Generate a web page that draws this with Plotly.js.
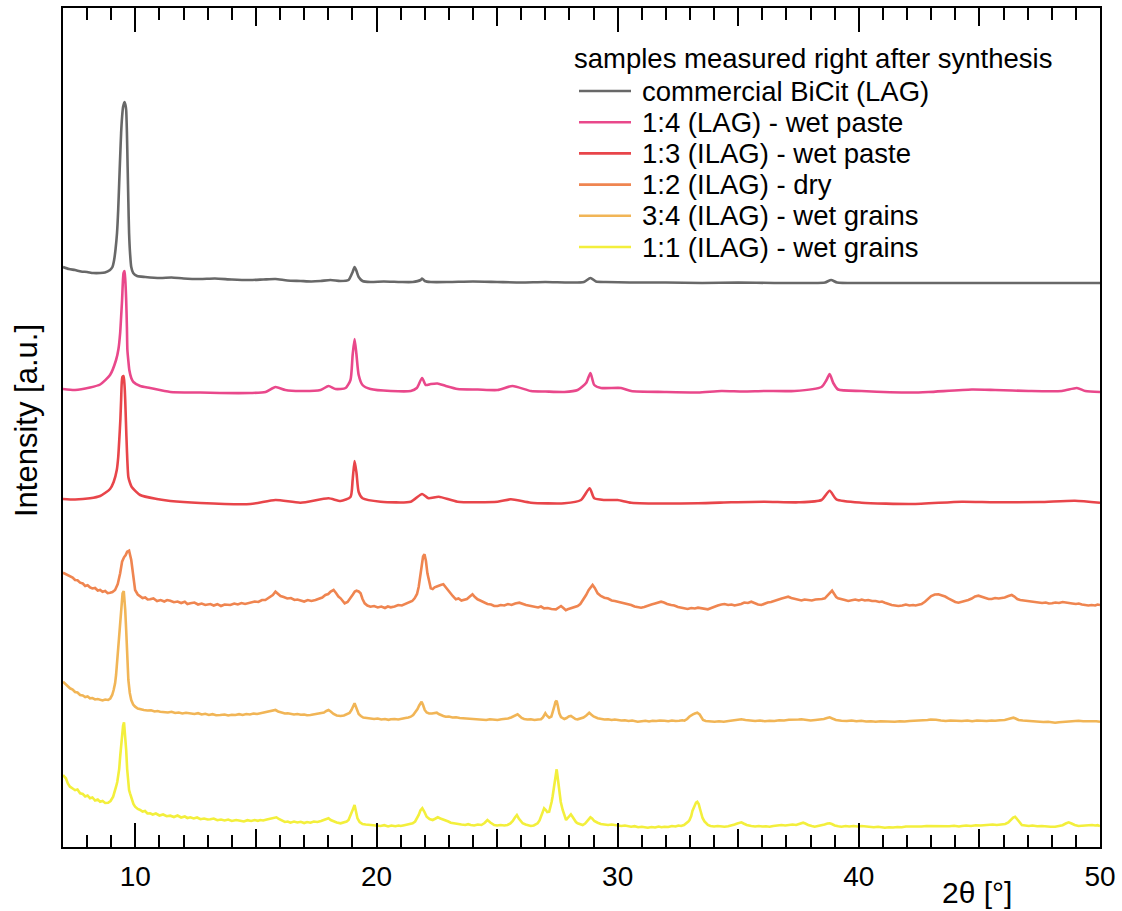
<!DOCTYPE html>
<html>
<head>
<meta charset="utf-8">
<script src="https://cdn.plot.ly/plotly-3.0.1.min.js"></script>
<style>
  html, body { margin: 0; padding: 0; background: #ffffff; }
  #chart { width: 1122px; height: 911px; }
</style>
</head>
<body>
<div id="chart"></div>
<script>
// Stacked XRD patterns, 2θ in degrees, intensity in arbitrary (offset) units.

const sampleNames = [
  "commercial BiCit (LAG)",
  "1:4 (LAG) - wet paste",
  "1:3 (ILAG) - wet paste",
  "1:2 (ILAG) - dry",
  "3:4 (ILAG) - wet grains",
  "1:1 (ILAG) - wet grains"
];
const legendTitle = "samples measured right after synthesis";
const xTickValues = [10, 20, 30, 40, 50];
const xMidTickValues = [15, 25, 35, 45];

// commercial BiCit (LAG)
const bicitX = [
  7.00, 7.25, 7.50, 7.75, 8.00, 8.25, 8.54, 8.74, 8.95, 9.05,
  9.12, 9.18, 9.24, 9.29, 9.33, 9.37, 9.41, 9.45, 9.49, 9.55,
  9.59, 9.62, 9.65, 9.68, 9.71, 9.74, 9.78, 9.83, 9.91, 10.07,
  10.41, 11.03, 11.50, 12.00, 12.69, 13.30, 14.00, 14.77, 15.30, 15.81,
  16.30, 16.85, 17.30, 17.68, 18.09, 18.50, 18.84, 19.01, 19.09, 19.17,
  19.26, 19.42, 19.75, 20.30, 21.00, 21.50, 21.83, 21.89, 22.00, 22.25,
  23.00, 24.00, 25.00, 26.00, 27.00, 28.00, 28.60, 28.87, 29.10, 29.50,
  30.50, 32.00, 33.50, 35.00, 36.50, 38.00, 38.60, 38.85, 39.10, 40.00,
  41.50, 43.00, 44.50, 46.00, 47.50, 49.00, 50.00
];
const bicitY = [
  580, 578, 577, 575.5, 575, 574, 574, 574.5, 577, 580,
  587, 598, 614, 638, 664, 690, 714, 730, 740, 745,
  742, 737, 715, 680, 645, 614, 594, 580, 574, 571,
  570, 569, 569.5, 568.5, 568, 568.5, 567.5, 567, 567.5, 568,
  566.5, 566, 565.5, 566, 567, 566, 567, 575, 580, 576,
  570, 566, 565, 565.5, 565, 565, 567, 568.5, 566, 565,
  565, 565.5, 565, 564.5, 565, 564.5, 565, 569, 565.5, 565,
  564.5, 564.5, 564, 564.5, 564, 564, 564.5, 567, 564.5, 564,
  564, 564, 564, 564, 564, 564, 564
];

// 1:4 (LAG) - wet paste
const lag14X = [
  7.00, 7.50, 8.12, 8.54, 8.95, 9.20, 9.30, 9.37, 9.41, 9.45,
  9.51, 9.55, 9.58, 9.62, 9.65, 9.67, 9.71, 9.75, 9.83, 9.92,
  10.20, 10.61, 11.45, 12.69, 13.50, 14.77, 15.40, 15.81, 16.22, 16.85,
  17.68, 18.01, 18.30, 18.72, 18.92, 19.01, 19.09, 19.17, 19.26, 19.42,
  19.75, 20.59, 21.42, 21.67, 21.89, 22.04, 22.25, 22.53, 22.87, 23.36,
  24.20, 25.02, 25.64, 26.40, 27.00, 27.79, 28.34, 28.69, 28.87, 29.03,
  29.31, 30.14, 30.56, 31.94, 33.33, 34.30, 35.20, 36.09, 37.33, 38.45,
  38.66, 38.79, 38.94, 39.14, 40.11, 42.19, 42.88, 44.68, 45.65, 47.04,
  48.42, 49.04, 49.39, 50.00
];
const lag14Y = [
  458, 457, 459.5, 462.5, 472, 487, 498, 514, 530, 547,
  574, 576, 568, 547, 520, 497, 486, 477, 469, 465,
  461, 459, 455, 454.5, 454, 454, 455, 460, 457, 456,
  457, 461, 458, 459, 467, 492, 508, 492, 472, 462,
  458, 456, 456, 459, 469, 462, 463, 463.5, 461, 458,
  457.5, 457, 461, 456, 455.5, 455, 457, 464, 474, 462,
  459, 459, 456, 455, 454.5, 456, 455.5, 456, 456, 460,
  467, 473, 464, 457.5, 456, 454.5, 455, 457.5, 457, 456,
  456, 459, 456, 455
];

// 1:3 (ILAG) - wet paste
const ilag13X = [
  7.00, 7.50, 8.12, 8.54, 8.95, 9.10, 9.23, 9.29, 9.34, 9.38,
  9.41, 9.46, 9.51, 9.55, 9.58, 9.61, 9.65, 9.71, 9.78, 9.85,
  10.20, 10.89, 11.45, 12.69, 14.77, 15.81, 16.85, 18.01, 18.51, 18.92,
  19.01, 19.09, 19.17, 19.26, 19.42, 20.17, 21.42, 21.89, 22.16, 22.58,
  23.36, 25.02, 25.57, 26.40, 27.79, 28.48, 28.84, 29.03, 29.45, 30.00,
  30.56, 33.33, 34.71, 36.09, 37.50, 38.45, 38.79, 39.07, 40.11, 42.19,
  44.27, 45.65, 47.50, 48.96, 50.00
];
const ilag13Y = [
  348, 347.5, 348.7, 351, 358, 365, 377, 390, 410, 428,
  447, 470, 471, 462, 447, 425, 397, 370, 364, 360,
  352, 348, 346, 344, 343, 347, 344.3, 348.7, 346, 350,
  367, 386, 374, 355, 348.7, 345.3, 345.3, 353, 348.7, 350.3,
  345.3, 345.3, 347.7, 344.3, 343.7, 347, 358.7, 348.7, 347, 347,
  344.3, 343.7, 344.7, 345.3, 344.7, 347, 356.3, 347.7, 344.3, 343,
  345.3, 344.7, 345, 346.3, 344.3
];

// 1:2 (ILAG) - dry
const ilag12X = [
  7.00, 7.10, 7.20, 7.29, 7.40, 7.50, 7.60, 7.71, 7.82, 7.92,
  8.02, 8.12, 8.22, 8.33, 8.44, 8.54, 8.64, 8.75, 8.85, 8.95,
  9.05, 9.16, 9.27, 9.37, 9.45, 9.53, 9.60, 9.66, 9.74, 9.83,
  9.91, 9.99, 10.10, 10.20, 10.30, 10.41, 10.51, 10.61, 10.75, 10.90,
  11.05, 11.20, 11.32, 11.45, 11.60, 11.75, 11.90, 12.05, 12.16, 12.28,
  12.45, 12.60, 12.75, 12.90, 13.11, 13.25, 13.40, 13.55, 13.70, 13.94,
  14.10, 14.25, 14.40, 14.55, 14.77, 14.95, 15.10, 15.25, 15.39, 15.55,
  15.70, 15.81, 15.92, 16.02, 16.15, 16.30, 16.45, 16.60, 16.72, 16.85,
  17.00, 17.15, 17.30, 17.47, 17.60, 17.75, 17.88, 18.00, 18.10, 18.22,
  18.32, 18.42, 18.51, 18.60, 18.68, 18.80, 18.92, 19.02, 19.10, 19.17,
  19.26, 19.34, 19.42, 19.51, 19.62, 19.75, 19.90, 20.05, 20.20, 20.35,
  20.47, 20.59, 20.75, 20.90, 21.05, 21.21, 21.35, 21.48, 21.58, 21.68,
  21.75, 21.82, 21.87, 21.93, 21.99, 22.05, 22.11, 22.18, 22.25, 22.33,
  22.41, 22.50, 22.58, 22.66, 22.77, 22.86, 22.94, 23.05, 23.16, 23.29,
  23.40, 23.52, 23.63, 23.75, 23.87, 23.98, 24.08, 24.19, 24.30, 24.45,
  24.60, 24.75, 24.88, 25.02, 25.15, 25.30, 25.45, 25.60, 25.75, 25.92,
  26.05, 26.20, 26.40, 26.55, 26.70, 26.82, 26.95, 27.10, 27.25, 27.44,
  27.55, 27.65, 27.75, 27.85, 27.93, 28.05, 28.20, 28.34, 28.45, 28.57,
  28.69, 28.80, 28.90, 28.96, 29.05, 29.17, 29.30, 29.45, 29.60, 29.75,
  29.88, 30.00, 30.15, 30.30, 30.45, 30.56, 30.70, 30.85, 30.97, 31.10,
  31.25, 31.40, 31.55, 31.70, 31.80, 31.92, 32.05, 32.22, 32.35, 32.50,
  32.65, 32.77, 32.90, 33.05, 33.20, 33.33, 33.48, 33.60, 33.74, 33.88,
  34.02, 34.15, 34.30, 34.43, 34.58, 34.72, 34.85, 34.99, 35.12, 35.25,
  35.40, 35.54, 35.68, 35.82, 35.96, 36.10, 36.22, 36.36, 36.50, 36.65,
  36.80, 36.95, 37.07, 37.20, 37.35, 37.50, 37.62, 37.75, 37.90, 38.05,
  38.20, 38.35, 38.47, 38.59, 38.70, 38.80, 38.89, 38.98, 39.06, 39.14,
  39.28, 39.42, 39.56, 39.70, 39.85, 40.00, 40.12, 40.25, 40.39, 40.55,
  40.70, 40.85, 40.96, 41.08, 41.22, 41.36, 41.50, 41.64, 41.80, 41.95,
  42.10, 42.25, 42.35, 42.47, 42.60, 42.74, 42.88, 43.00, 43.15, 43.30,
  43.45, 43.58, 43.71, 43.85, 44.00, 44.13, 44.27, 44.40, 44.54, 44.68,
  44.82, 44.96, 45.10, 45.25, 45.38, 45.51, 45.65, 45.80, 45.93, 46.05,
  46.20, 46.34, 46.45, 46.57, 46.69, 46.85, 47.00, 47.15, 47.31, 47.45,
  47.60, 47.75, 47.88, 48.01, 48.15, 48.30, 48.45, 48.58, 48.70, 48.85,
  49.00, 49.12, 49.25, 49.39, 49.52, 49.65, 49.80, 49.90, 50.00
];
const ilag12Y = [
  274.3, 273.0, 271.5, 270.3, 269.5, 267.0, 266.8, 264.3, 263.5, 261.0,
  261.8, 259.7, 258.5, 259.0, 256.5, 257.0, 255.2, 256.0, 253.8, 254.3,
  255.0, 257.0, 263.0, 273.7, 285.3, 289.7, 292.0, 295.3, 296.3, 287.0,
  270.3, 257.0, 252.5, 250.3, 249.0, 249.5, 247.5, 247.7, 248.5, 246.0,
  247.0, 245.5, 247.0, 246.3, 244.8, 245.5, 244.0, 245.2, 243.0, 243.7,
  244.5, 242.5, 243.5, 242.0, 243.0, 241.5, 242.8, 241.0, 242.5, 242.0,
  243.5, 242.5, 244.0, 243.0, 244.3, 245.5, 245.0, 247.0, 247.0, 249.5,
  252.0, 255.3, 252.5, 251.0, 250.0, 248.5, 249.0, 247.0, 247.5, 246.3,
  245.5, 247.0, 246.0, 247.0, 248.5, 249.5, 252.0, 253.0, 255.5, 257.0,
  254.0, 250.5, 248.7, 245.5, 243.7, 245.0, 248.7, 252.5, 255.5, 256.3,
  255.5, 253.7, 248.0, 243.7, 241.5, 240.3, 241.0, 239.5, 240.5, 239.0,
  240.5, 239.7, 240.5, 242.0, 241.5, 243.0, 244.5, 246.0, 248.7, 253.0,
  260.3, 272.0, 283.7, 290.5, 292.7, 286.0, 273.7, 264.0, 258.7, 258.0,
  259.7, 260.5, 261.5, 262.0, 262.7, 260.0, 257.0, 254.0, 251.0, 247.7,
  248.5, 246.5, 247.0, 248.0, 250.5, 252.7, 250.0, 247.7, 246.5, 244.5,
  243.0, 242.5, 241.0, 241.0, 242.0, 241.5, 243.0, 242.0, 243.5, 244.3,
  243.0, 242.0, 241.0, 240.0, 239.5, 240.5, 238.7, 239.0, 238.0, 237.7,
  239.0, 241.0, 239.0, 236.8, 237.7, 238.5, 240.0, 241.0, 243.0, 247.0,
  252.0, 257.0, 261.0, 262.0, 259.0, 253.7, 251.0, 249.3, 248.5, 246.5,
  246.0, 245.3, 244.5, 243.0, 242.5, 242.0, 240.5, 240.0, 239.3, 240.0,
  241.5, 242.5, 243.5, 244.5, 245.3, 244.5, 243.0, 242.0, 241.5, 240.0,
  239.5, 238.7, 238.0, 239.0, 238.5, 239.3, 238.5, 238.0, 237.7, 239.0,
  240.5, 241.5, 242.5, 243.0, 242.0, 242.5, 241.5, 242.0, 243.0, 244.5,
  244.0, 245.3, 243.5, 242.5, 242.0, 243.5, 244.5, 245.0, 246.3, 247.5,
  248.5, 249.5, 250.3, 249.0, 248.0, 247.5, 246.5, 247.5, 247.0, 246.5,
  247.5, 247.5, 248.0, 248.7, 251.5, 254.5, 256.3, 253.0, 250.0, 248.7,
  247.5, 247.0, 246.0, 246.5, 247.5, 246.5, 247.5, 246.5, 247.0, 246.0,
  246.0, 245.0, 245.5, 244.3, 243.0, 242.0, 241.5, 241.0, 241.5, 242.5,
  241.5, 242.0, 241.5, 242.0, 243.0, 245.3, 248.0, 251.0, 252.5, 252.7,
  251.5, 250.5, 248.7, 247.0, 245.0, 244.3, 245.0, 246.0, 247.0, 248.5,
  250.5, 251.3, 250.0, 249.0, 248.0, 248.0, 249.0, 248.5, 248.7, 249.5,
  251.0, 252.0, 250.5, 248.0, 247.0, 246.5, 246.0, 245.5, 245.3, 244.5,
  244.0, 244.5, 243.5, 243.7, 244.5, 244.0, 245.0, 244.5, 244.3, 243.5,
  243.0, 243.5, 242.5, 242.0, 241.5, 242.0, 241.5, 242.5, 242.0
];

// 3:4 (ILAG) - wet grains
const ilag34X = [
  7.00, 7.10, 7.20, 7.29, 7.40, 7.50, 7.60, 7.71, 7.82, 7.92,
  8.02, 8.12, 8.22, 8.33, 8.44, 8.54, 8.64, 8.75, 8.87, 8.96,
  9.04, 9.10, 9.16, 9.20, 9.24, 9.29, 9.33, 9.37, 9.41, 9.44,
  9.47, 9.52, 9.56, 9.58, 9.62, 9.65, 9.68, 9.71, 9.77, 9.83,
  9.91, 9.99, 10.10, 10.20, 10.35, 10.50, 10.65, 10.80, 10.92, 11.03,
  11.20, 11.35, 11.50, 11.65, 11.80, 11.95, 12.10, 12.28, 12.45, 12.60,
  12.75, 12.90, 13.05, 13.20, 13.35, 13.52, 13.70, 13.85, 14.00, 14.15,
  14.30, 14.45, 14.60, 14.75, 14.90, 15.05, 15.18, 15.32, 15.45, 15.58,
  15.70, 15.81, 15.92, 16.05, 16.20, 16.32, 16.43, 16.58, 16.72, 16.86,
  17.00, 17.12, 17.26, 17.40, 17.55, 17.70, 17.82, 17.92, 18.01, 18.10,
  18.22, 18.35, 18.51, 18.65, 18.78, 18.88, 18.96, 19.03, 19.09, 19.15,
  19.21, 19.26, 19.35, 19.45, 19.60, 19.75, 19.90, 20.05, 20.20, 20.35,
  20.50, 20.59, 20.75, 20.90, 21.05, 21.20, 21.32, 21.42, 21.52, 21.62,
  21.70, 21.77, 21.83, 21.87, 21.93, 22.00, 22.08, 22.18, 22.30, 22.42,
  22.50, 22.58, 22.66, 22.77, 22.87, 23.00, 23.15, 23.30, 23.45, 23.63,
  23.80, 23.95, 24.10, 24.25, 24.40, 24.55, 24.70, 24.85, 25.02, 25.18,
  25.32, 25.45, 25.58, 25.70, 25.78, 25.85, 25.93, 26.02, 26.12, 26.25,
  26.40, 26.55, 26.70, 26.82, 26.90, 26.96, 27.00, 27.06, 27.16, 27.25,
  27.32, 27.37, 27.42, 27.47, 27.52, 27.58, 27.65, 27.72, 27.79, 27.88,
  27.97, 28.06, 28.15, 28.25, 28.34, 28.45, 28.58, 28.70, 28.78, 28.82,
  28.90, 29.00, 29.17, 29.30, 29.45, 29.60, 29.75, 29.88, 30.00, 30.15,
  30.30, 30.45, 30.60, 30.75, 30.83, 31.00, 31.15, 31.30, 31.45, 31.60,
  31.75, 31.94, 32.10, 32.25, 32.40, 32.55, 32.68, 32.77, 32.88, 32.98,
  33.06, 33.12, 33.20, 33.30, 33.40, 33.48, 33.54, 33.65, 33.80, 34.02,
  34.20, 34.40, 34.60, 34.80, 35.00, 35.13, 35.30, 35.50, 35.70, 35.90,
  36.10, 36.30, 36.50, 36.70, 36.90, 37.10, 37.30, 37.50, 37.62, 37.80,
  38.00, 38.20, 38.40, 38.55, 38.68, 38.79, 38.90, 39.05, 39.28, 39.50,
  39.70, 39.90, 40.10, 40.30, 40.50, 40.70, 40.90, 41.10, 41.30, 41.49,
  41.70, 41.90, 42.10, 42.30, 42.50, 42.70, 42.85, 42.98, 43.09, 43.20,
  43.40, 43.60, 43.80, 44.00, 44.27, 44.50, 44.70, 44.90, 45.10, 45.30,
  45.50, 45.65, 45.85, 46.05, 46.20, 46.32, 46.41, 46.50, 46.62, 46.80,
  47.04, 47.25, 47.45, 47.65, 47.85, 48.00, 48.14, 48.30, 48.50, 48.70,
  48.90, 49.11, 49.30, 49.50, 49.70, 49.85, 50.00
];
const ilag34Y = [
  165.3, 163.0, 161.5, 158.7, 157.5, 155.0, 154.5, 152.0, 151.5, 150.0,
  150.5, 148.7, 149.0, 147.5, 148.0, 147.0, 146.5, 147.5, 147.0, 148.5,
  152.0, 157.0, 163.7, 172.0, 183.7, 195.0, 207.0, 220.0, 233.7, 245.0,
  253.7, 256.0, 247.0, 237.0, 217.0, 200.3, 182.0, 167.0, 154.0, 147.0,
  142.5, 140.3, 138.5, 137.7, 137.0, 136.5, 136.8, 135.5, 136.0, 135.3,
  135.0, 134.5, 135.2, 134.0, 134.5, 133.5, 134.2, 133.7, 133.0, 133.8,
  132.5, 133.2, 132.0, 132.8, 131.8, 132.0, 132.5, 131.5, 132.3, 132.0,
  132.8, 132.0, 133.0, 132.5, 133.5, 133.0, 133.7, 134.0, 135.0, 136.0,
  136.5, 137.0, 135.5, 134.5, 133.5, 133.8, 133.0, 132.5, 133.0, 132.2,
  132.5, 131.8, 132.0, 132.5, 133.0, 133.5, 134.5, 136.0, 137.0, 135.5,
  133.0, 131.5, 131.0, 131.5, 132.5, 134.0, 137.0, 141.5, 143.7, 140.0,
  135.5, 133.0, 131.0, 129.5, 129.0, 128.7, 128.0, 128.5, 127.5, 128.0,
  127.2, 127.7, 128.0, 127.5, 128.5, 129.0, 129.5, 130.3, 132.0, 135.0,
  138.0, 141.5, 144.5, 145.3, 142.0, 137.0, 134.5, 133.5, 133.5, 134.0,
  134.3, 133.0, 132.0, 131.0, 130.3, 130.5, 129.5, 129.8, 129.0, 128.7,
  128.5, 128.0, 128.5, 127.5, 128.0, 127.0, 127.8, 127.2, 127.0, 127.8,
  128.0, 128.5, 129.5, 131.0, 132.5, 132.7, 131.0, 129.0, 128.0, 127.5,
  127.8, 127.0, 127.5, 127.7, 129.5, 132.5, 133.7, 131.5, 129.3, 130.5,
  135.0, 140.3, 145.0, 146.3, 141.0, 133.7, 130.0, 128.5, 128.0, 129.0,
  130.5, 131.0, 129.5, 128.0, 127.7, 128.2, 129.5, 131.5, 133.5, 134.3,
  132.5, 130.5, 128.7, 128.0, 127.5, 127.8, 127.0, 127.5, 127.0, 126.5,
  126.8, 126.0, 126.5, 125.5, 125.3, 125.8, 126.2, 125.5, 126.3, 126.0,
  126.5, 126.3, 125.8, 126.5, 126.0, 126.3, 126.8, 126.3, 128.0, 130.5,
  132.0, 132.7, 133.5, 134.3, 132.5, 129.5, 127.0, 126.0, 125.5, 125.3,
  125.8, 125.2, 126.0, 126.5, 127.0, 127.7, 127.0, 126.5, 126.0, 126.5,
  125.8, 126.3, 126.0, 126.8, 126.5, 127.2, 127.0, 127.5, 127.7, 127.0,
  126.5, 127.0, 127.5, 128.0, 129.0, 129.7, 128.5, 127.0, 126.3, 126.0,
  126.5, 125.8, 126.2, 125.5, 125.8, 125.2, 125.8, 125.5, 125.0, 125.3,
  125.8, 125.5, 126.0, 126.3, 126.0, 126.5, 127.0, 127.5, 127.7, 127.2,
  126.5, 126.0, 126.5, 126.0, 126.0, 126.5, 125.8, 126.5, 126.2, 126.0,
  126.5, 126.3, 126.8, 127.0, 128.0, 129.0, 129.3, 128.5, 127.0, 126.5,
  126.0, 125.5, 125.8, 125.0, 125.3, 124.8, 124.3, 124.8, 125.2, 125.5,
  126.0, 126.3, 125.8, 126.0, 125.5, 125.8, 125.3
];

// 1:1 (ILAG) - wet grains
const ilag11X = [
  7.00, 7.06, 7.12, 7.20, 7.29, 7.40, 7.50, 7.60, 7.71, 7.82,
  7.92, 8.02, 8.12, 8.22, 8.33, 8.44, 8.54, 8.64, 8.75, 8.87,
  8.97, 9.08, 9.15, 9.20, 9.25, 9.29, 9.33, 9.37, 9.41, 9.45,
  9.49, 9.53, 9.57, 9.62, 9.66, 9.70, 9.74, 9.78, 9.85, 9.92,
  9.99, 10.10, 10.20, 10.30, 10.40, 10.50, 10.61, 10.72, 10.85, 11.00,
  11.15, 11.30, 11.45, 11.60, 11.75, 11.90, 12.05, 12.16, 12.28, 12.42,
  12.56, 12.70, 12.85, 13.00, 13.11, 13.25, 13.40, 13.55, 13.70, 13.85,
  14.00, 14.18, 14.35, 14.50, 14.65, 14.80, 14.95, 15.08, 15.18, 15.30,
  15.45, 15.58, 15.70, 15.80, 15.85, 15.95, 16.08, 16.20, 16.32, 16.43,
  16.58, 16.72, 16.86, 17.00, 17.12, 17.26, 17.40, 17.55, 17.70, 17.82,
  17.92, 18.01, 18.10, 18.22, 18.35, 18.51, 18.65, 18.76, 18.84, 18.92,
  19.01, 19.09, 19.15, 19.21, 19.30, 19.42, 19.55, 19.70, 19.85, 20.00,
  20.17, 20.32, 20.48, 20.62, 20.78, 20.92, 21.00, 21.15, 21.30, 21.42,
  21.50, 21.60, 21.68, 21.75, 21.82, 21.90, 21.98, 22.08, 22.20, 22.33,
  22.45, 22.54, 22.65, 22.77, 22.87, 22.98, 23.08, 23.22, 23.38, 23.52,
  23.68, 23.80, 23.91, 24.05, 24.20, 24.35, 24.48, 24.60, 24.72, 24.88,
  25.00, 25.15, 25.30, 25.43, 25.55, 25.65, 25.74, 25.82, 25.90, 26.00,
  26.06, 26.18, 26.30, 26.40, 26.52, 26.60, 26.68, 26.76, 26.84, 26.90,
  26.95, 27.02, 27.08, 27.16, 27.22, 27.26, 27.30, 27.35, 27.40, 27.44,
  27.47, 27.50, 27.54, 27.58, 27.64, 27.72, 27.79, 27.86, 27.93, 28.00,
  28.06, 28.12, 28.20, 28.27, 28.34, 28.45, 28.55, 28.65, 28.75, 28.82,
  28.87, 28.94, 29.03, 29.17, 29.30, 29.45, 29.60, 29.75, 29.86, 30.00,
  30.15, 30.30, 30.45, 30.56, 30.70, 30.85, 31.00, 31.12, 31.25, 31.40,
  31.55, 31.70, 31.82, 31.94, 32.10, 32.25, 32.40, 32.52, 32.63, 32.75,
  32.85, 32.93, 32.98, 33.05, 33.10, 33.14, 33.20, 33.25, 33.30, 33.36,
  33.42, 33.46, 33.52, 33.60, 33.68, 33.74, 33.85, 34.00, 34.15, 34.30,
  34.43, 34.58, 34.72, 34.85, 34.96, 35.05, 35.13, 35.22, 35.35, 35.54,
  35.70, 35.85, 36.00, 36.15, 36.30, 36.45, 36.60, 36.79, 36.95, 37.10,
  37.25, 37.40, 37.52, 37.62, 37.69, 37.78, 37.90, 38.05, 38.17, 38.30,
  38.45, 38.58, 38.70, 38.79, 38.88, 39.00, 39.15, 39.28, 39.45, 39.60,
  39.78, 39.95, 40.11, 40.28, 40.45, 40.62, 40.80, 40.95, 41.08, 41.25,
  41.42, 41.60, 41.78, 41.95, 42.19, 42.40, 42.60, 42.80, 43.00, 43.16,
  43.35, 43.55, 43.75, 43.95, 44.15, 44.27, 44.45, 44.65, 44.85, 45.05,
  45.25, 45.37, 45.55, 45.72, 45.90, 46.07, 46.20, 46.30, 46.40, 46.48,
  46.56, 46.64, 46.76, 46.90, 47.05, 47.20, 47.40, 47.59, 47.75, 47.95,
  48.14, 48.30, 48.45, 48.58, 48.70, 48.82, 48.95, 49.11, 49.30, 49.50,
  49.67, 49.80, 49.90, 50.00
];
const ilag11Y = [
  72.0, 70.0, 68.7, 63.5, 60.3, 58.5, 56.8, 57.5, 53.7, 53.0,
  50.5, 51.5, 48.7, 49.5, 46.5, 47.5, 45.3, 46.0, 44.0, 44.3,
  46.0, 50.3, 55.0, 60.3, 65.0, 70.3, 78.0, 90.3, 102.0, 113.7,
  121.0, 124.7, 114.0, 97.0, 78.0, 63.7, 57.0, 53.7, 47.5, 43.0,
  40.3, 38.0, 37.0, 35.5, 36.0, 33.5, 33.7, 32.5, 33.5, 31.5,
  32.5, 30.8, 31.3, 30.0, 31.5, 29.5, 30.5, 29.0, 29.7, 28.5,
  29.5, 27.8, 28.5, 27.5, 27.7, 28.5, 26.8, 27.5, 26.5, 27.5,
  26.0, 27.0, 26.3, 25.5, 26.8, 26.0, 27.0, 26.2, 27.0, 26.5,
  27.5, 28.0, 28.5, 29.5, 29.7, 28.0, 26.5, 25.0, 25.5, 24.3,
  25.5, 24.5, 25.2, 24.0, 25.0, 24.3, 25.5, 25.0, 26.0, 27.0,
  28.0, 28.7, 27.0, 25.5, 24.5, 23.7, 24.5, 25.5, 27.0, 31.0,
  37.0, 42.0, 36.0, 28.7, 25.0, 23.0, 22.5, 22.0, 21.5, 21.0,
  21.0, 21.8, 20.5, 21.5, 20.8, 21.5, 21.0, 21.8, 22.5, 23.0,
  23.7, 25.5, 28.5, 32.0, 36.5, 38.7, 35.5, 30.3, 28.0, 27.0,
  28.5, 29.7, 28.5, 27.5, 27.0, 25.5, 24.3, 23.5, 23.0, 22.5,
  22.0, 22.8, 22.0, 21.5, 22.5, 22.0, 24.0, 27.0, 24.5, 22.0,
  21.5, 22.0, 21.5, 22.0, 23.5, 26.0, 29.5, 32.0, 28.5, 25.0,
  23.7, 22.5, 21.8, 21.0, 21.5, 22.5, 23.7, 26.5, 31.0, 35.5,
  38.7, 37.0, 35.0, 35.3, 40.0, 45.0, 50.3, 60.0, 70.0, 76.0,
  77.7, 72.0, 63.0, 53.7, 45.0, 37.0, 31.5, 27.0, 29.0, 31.5,
  32.7, 30.5, 27.0, 25.0, 23.7, 22.5, 22.0, 23.5, 26.5, 28.5,
  29.7, 28.5, 26.0, 24.3, 23.0, 22.5, 22.0, 22.5, 22.0, 21.5,
  21.0, 21.5, 20.5, 20.3, 20.8, 19.8, 20.3, 19.5, 19.3, 20.0,
  19.5, 20.5, 19.8, 20.3, 20.0, 21.0, 20.5, 21.5, 21.0, 22.0,
  23.5, 25.5, 27.0, 31.0, 36.0, 38.7, 42.0, 44.5, 45.3, 43.0,
  37.5, 33.7, 29.0, 25.5, 23.0, 22.0, 21.0, 20.5, 21.0, 20.5,
  20.3, 20.8, 21.5, 22.5, 23.5, 24.5, 24.7, 23.5, 22.0, 21.0,
  20.5, 21.0, 20.5, 20.8, 20.3, 21.0, 21.5, 22.0, 21.5, 22.0,
  22.5, 22.0, 23.0, 24.0, 24.3, 23.5, 22.0, 21.0, 20.3, 21.0,
  21.5, 22.5, 23.5, 23.7, 23.0, 21.5, 20.8, 20.3, 21.0, 20.5,
  21.0, 20.5, 21.0, 20.5, 20.0, 19.8, 20.3, 19.5, 19.3, 19.8,
  19.5, 20.0, 19.8, 20.5, 20.3, 20.8, 20.5, 21.0, 20.8, 21.0,
  20.5, 21.0, 20.8, 21.2, 20.5, 21.0, 21.5, 21.0, 21.8, 21.5,
  22.0, 22.0, 22.5, 22.0, 22.8, 23.0, 24.5, 27.0, 29.5, 30.3,
  28.0, 25.0, 22.0, 21.5, 21.0, 21.5, 20.8, 21.0, 20.5, 20.3,
  20.3, 21.0, 21.8, 23.5, 24.7, 23.5, 22.0, 21.0, 21.5, 22.0,
  22.0, 21.5, 21.8, 21.0
];

const seriesX = [bicitX, lag14X, ilag13X, ilag12X, ilag34X, ilag11X];
const seriesY = [bicitY, lag14Y, ilag13Y, ilag12Y, ilag34Y, ilag11Y];
const lineColors = ["#686868", "#e9488b", "#e8454a", "#ef8550", "#f1b556", "#f3ef3c"];
// the smooth, well-crystallised patterns get a light spline; the noisy ones stay linear
const lineShapes = ["spline", "spline", "spline", "linear", "linear", "linear"];

const traces = sampleNames.map((name, i) => ({
  type: "scatter",
  mode: "lines",
  name: name,
  x: seriesX[i],
  y: seriesY[i],
  // last pattern sits on the overlaid axis that carries the 5° tick marks
  xaxis: i === sampleNames.length - 1 ? "x2" : "x",
  line: { color: lineColors[i], width: 2.6, shape: lineShapes[i], smoothing: 0.6 },
  showlegend: false,
  hoverinfo: "x+y+name"
}));

// Plot frame in page pixels
const frame = { left: 63, right: 1100, top: 8, bottom: 847 };
const px = v => (v - frame.left) / (frame.right - frame.left);
const py = v => (frame.bottom - v) / (frame.bottom - frame.top);

const font = "Liberation Sans, Arial, Helvetica, sans-serif";
const legendFontSize = 27.5;

const annotations = [
  { text: "Intensity [a.u.]", xref: "paper", yref: "paper", x: px(27), y: py(421),
    textangle: -90, showarrow: false, xanchor: "center", yanchor: "middle",
    font: { family: font, size: 31, color: "#000" } },
  { text: "2θ [°]", xref: "paper", yref: "paper", x: px(977), y: py(892),
    showarrow: false, xanchor: "center", yanchor: "middle",
    font: { family: font, size: 30, color: "#000" } },
  { text: legendTitle, xref: "paper", yref: "paper", x: px(572), y: py(59),
    showarrow: false, xanchor: "left", yanchor: "middle",
    font: { family: font, size: legendFontSize, color: "#000" } }
];
const shapes = [];
sampleNames.forEach((name, i) => {
  const rowY = 91 + i * 31.2;
  annotations.push({ text: name, xref: "paper", yref: "paper", x: px(640), y: py(rowY),
    showarrow: false, xanchor: "left", yanchor: "middle",
    font: { family: font, size: legendFontSize, color: "#000" } });
  shapes.push({ type: "line", xref: "paper", yref: "paper",
    x0: px(579), x1: px(631), y0: py(rowY), y1: py(rowY),
    line: { color: lineColors[i], width: 2.6 } });
});

const layout = {
  width: 1122,
  height: 911,
  margin: { l: frame.left, r: 1122 - frame.right, t: frame.top, b: 911 - frame.bottom },
  paper_bgcolor: "#ffffff",
  plot_bgcolor: "#ffffff",
  font: { family: font, color: "#000" },
  showlegend: false,
  xaxis: {
    range: [7, 50],
    tickmode: "array",
    tickvals: xTickValues,
    ticktext: xTickValues.map(String),
    ticks: "inside",
    ticklen: 24,
    tickwidth: 2,
    tickcolor: "#000",
    tickfont: { family: font, size: 28, color: "#000" },
    ticklabelstandoff: 3,
    showline: true,
    linewidth: 2,
    linecolor: "#000",
    mirror: "allticks",
    showgrid: false,
    zeroline: false,
    minor: { tick0: 7, dtick: 1, ticks: "inside", ticklen: 12, tickwidth: 2, tickcolor: "#000", showgrid: false }
  },
  xaxis2: {
    overlaying: "x",
    anchor: "y",
    side: "bottom",
    range: [7, 50],
    tickmode: "array",
    tickvals: xMidTickValues,
    ticks: "inside",
    ticklen: 18,
    tickwidth: 2,
    tickcolor: "#000",
    showticklabels: false,
    showline: true,
    linewidth: 2,
    linecolor: "#000",
    mirror: "allticks",
    showgrid: false,
    zeroline: false
  },
  yaxis: {
    range: [0, 839],
    showline: true,
    linewidth: 2,
    linecolor: "#000",
    mirror: true,
    ticks: "",
    showticklabels: false,
    showgrid: false,
    zeroline: false
  },
  annotations: annotations,
  shapes: shapes
};

Plotly.newPlot("chart", traces, layout, { displayModeBar: false, staticPlot: true });
</script>
</body>
</html>
